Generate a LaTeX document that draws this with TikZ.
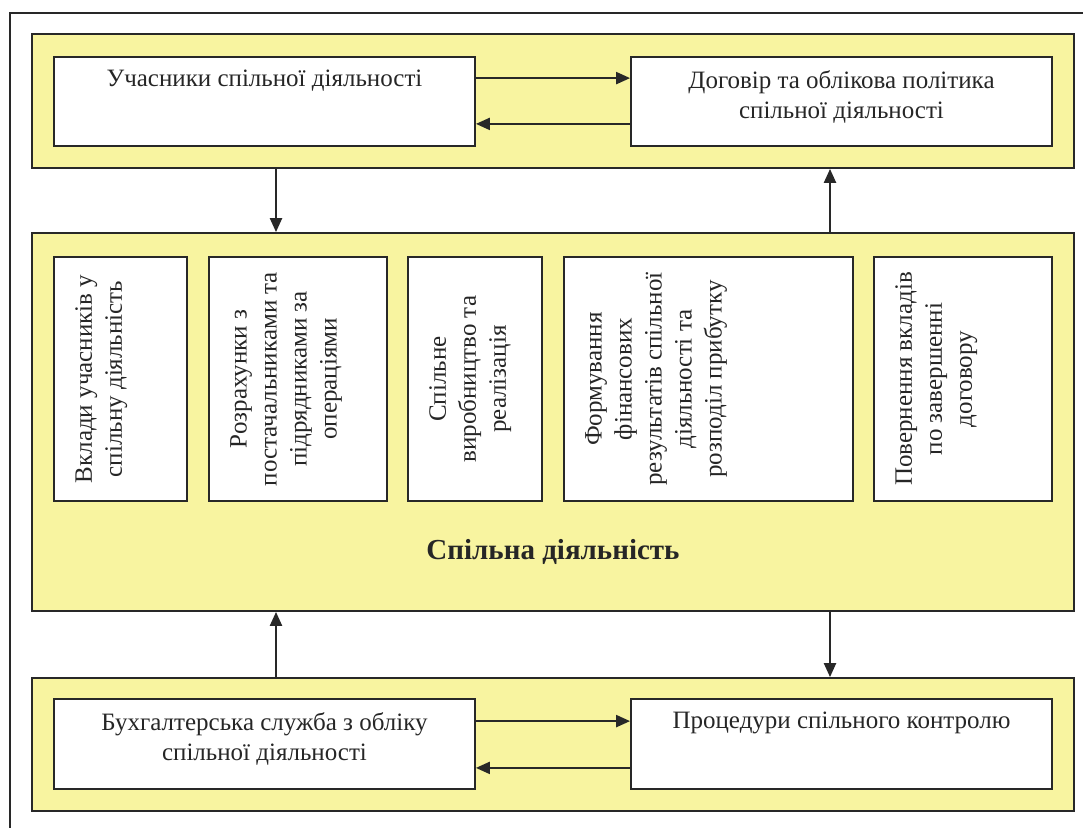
\documentclass[tikz,border=0pt]{standalone}
\usepackage{fontspec}
\setmainfont{Liberation Serif}
\usetikzlibrary{arrows.meta,calc}
\definecolor{yel}{RGB}{248,244,160}
\definecolor{linec}{RGB}{40,40,40}
\begin{document}
\begin{tikzpicture}[x=1pt,y=-1pt,
  panel/.style={draw=linec,fill=yel,line width=1.8pt,minimum width=1042pt,inner sep=0pt},
  wbox/.style={draw=linec,fill=white,line width=1.8pt,inner sep=0pt},
  txt/.style={font=\fontsize{25}{30}\selectfont,align=center,inner sep=0pt,text=black!85},
  arr/.style={draw=linec,line width=2.2pt,-{Triangle[length=14pt,width=12pt]}}]
\useasboundingbox (0,0) rectangle (1083,827);
\fill[white] (0,0) rectangle (1083,827);
\draw[linec,line width=1.8pt] (10,845) -- (10,13) -- (1100,13);
% panels
\node[panel,minimum height=134pt] (top) at (553,101) {};
\node[panel,minimum height=378pt] (mid) at (553,422) {};
\node[panel,minimum height=133pt] (bot) at (553,744.5) {};
% top boxes
\node[wbox,minimum width=421pt,minimum height=89pt] (u) at (264.5,101.5) {};
\node[wbox,minimum width=421pt,minimum height=89pt] (d) at (841.5,101.5) {};
\node[txt,anchor=north] (tu) at ([yshift=-14pt]u.north) {Учасники спільної діяльності};
\node[txt,anchor=north] (td) at ([yshift=-14pt]d.north) {Договір та облікова політика\\спільної діяльності};
% bottom boxes
\node[wbox,minimum width=421pt,minimum height=90pt] (acc) at (264.5,744) {};
\node[wbox,minimum width=421pt,minimum height=90pt] (ctrl) at (841.5,744) {};
\node[txt,anchor=north] (tacc) at ([yshift=-14pt]acc.north) {Бухгалтерська служба з обліку\\спільної діяльності};
\node[txt,anchor=north] (tctrl) at ([yshift=-14pt]ctrl.north) {Процедури спільного контролю};
% vertical boxes
\node[wbox,minimum width=133pt,minimum height=244pt] (b1) at (120.5,379) {};
\node[wbox,minimum width=178pt,minimum height=244pt] (b2) at (298,379) {};
\node[wbox,minimum width=134pt,minimum height=244pt] (b3) at (475,379) {};
\node[wbox,minimum width=289pt,minimum height=244pt] (b4) at (708.5,379) {};
\node[wbox,minimum width=178pt,minimum height=244pt] (b5) at (963,379) {};
\node[txt,rotate=90,anchor=north] (t1) at ([xshift=22pt]b1.west) {Вклади учасників у\\спільну діяльність};
\node[txt,rotate=90,anchor=north] (t2) at ([xshift=22pt]b2.west) {Розрахунки з\\постачальниками та\\підрядниками за\\операціями};
\node[txt,rotate=90,anchor=north] (t3) at ([xshift=22pt]b3.west) {Спільне\\виробництво та\\реалізація};
\node[txt,rotate=90,anchor=north] (t4) at ([xshift=22pt]b4.west) {Формування\\фінансових\\результатів спільної\\діяльності та\\розподіл прибутку};
\node[txt,rotate=90,anchor=north] (t5) at ([xshift=22pt]b5.west) {Повернення вкладів\\по завершенні\\договору};
\node[font=\bfseries\fontsize{29}{34}\selectfont,text=black!85,inner sep=0pt] (ml) at (553,552) {Спільна діяльність};
% arrows
\coordinate (c1) at (276,0);
\coordinate (c2) at (830,0);
\draw[arr] ([yshift=-22pt]u.north east) -- ([yshift=-22pt]u.north east -| d.west);
\draw[arr] ([yshift=23pt]d.south west) -- ([yshift=23pt]d.south west -| u.east);
\draw[arr] ([yshift=-23pt]acc.north east) -- ([yshift=-23pt]acc.north east -| ctrl.west);
\draw[arr] ([yshift=22pt]ctrl.south west) -- ([yshift=22pt]ctrl.south west -| acc.east);
\draw[arr] (top.south -| c1) -- (mid.north -| c1);
\draw[arr] (mid.north -| c2) -- (top.south -| c2);
\draw[arr] (bot.north -| c1) -- (mid.south -| c1);
\draw[arr] (mid.south -| c2) -- (bot.north -| c2);
\end{tikzpicture}
\end{document}
